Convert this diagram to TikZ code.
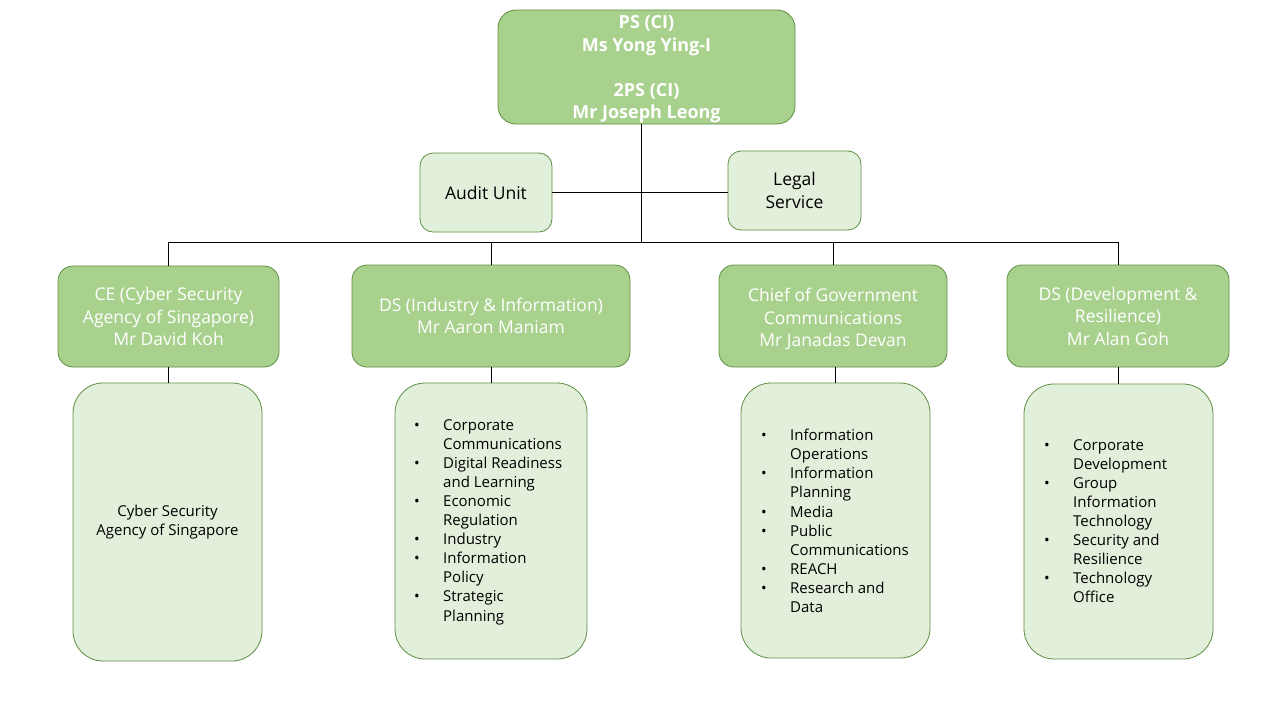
\documentclass[tikz,border=0pt]{standalone}
\usepackage{fontspec}
\setmainfont{Open Sans}
\definecolor{darkg}{HTML}{A9D18E}
\definecolor{lightg}{HTML}{E2EFDA}
\definecolor{edgeg}{HTML}{5E8F41}
\newcommand{\itm}[1]{\makebox[29pt][l]{\textbullet}#1}
\newcommand{\cnt}[1]{\hspace*{29pt}#1}
\begin{document}
\begin{tikzpicture}[x=1pt,y=-1pt,
  darkbox/.style={draw=edgeg, fill=darkg, line width=0.8pt, rounded corners=15pt, inner sep=0pt,
    text=white, align=center, font=\fontsize{17.5}{22.5}\selectfont},
  lightbox/.style={draw=edgeg, fill=lightg, line width=0.8pt, rounded corners=13pt, inner sep=0pt,
    text=black, align=center, font=\fontsize{17.5}{22.5}\selectfont},
  listbox/.style={draw=edgeg, fill=lightg, line width=0.8pt, rounded corners=30pt, inner sep=0pt},
  listtext/.style={anchor=north west, inner sep=0pt, align=left, font=\fontsize{15}{19.1}\selectfont},
  conn/.style={draw=black, line width=0.9pt}]
\useasboundingbox (0,0) rectangle (1280,720);
\fill[white] (0,0) rectangle (1280,720);

% top
\node[darkbox, rounded corners=18pt, minimum width=297pt, minimum height=114pt] (top) at (646.5,67) {};
\node[inner sep=0pt, text=white, align=center, font=\bfseries\fontsize{18}{22.5}\selectfont] (toptext) at (646.5,69.5)
  {PS (CI)\\Ms Yong Ying-I\\[22.5pt]2PS (CI)\\Mr Joseph Leong};

\node[lightbox, minimum width=132pt, minimum height=79pt] (audit) at (486,192.5) {Audit Unit};
\node[lightbox, minimum width=133pt, minimum height=79pt] (legal) at (794.5,190.5) {Legal\\Service};

% level 2
\node[darkbox, minimum width=221pt, minimum height=101pt] (ce) at (168.5,316.5)
  {CE (Cyber Security\\Agency of Singapore)\\Mr David Koh};
\node[darkbox, minimum width=278pt, minimum height=102pt] (dsii) at (491,316)
  {DS (Industry \& Information)\\Mr Aaron Maniam};
\node[darkbox, minimum width=228pt, minimum height=102pt] (chief) at (833,316)
  {\rule{0pt}{20pt}Chief of Government\\Communications\\Mr Janadas Devan};
\node[darkbox, minimum width=222pt, minimum height=102pt] (dsdr) at (1118,316)
  {DS (Development \&\\Resilience)\\Mr Alan Goh};

% level 3
\node[listbox, minimum width=189pt, minimum height=278pt] (b1) at (167.5,522) {};
\node[listbox, minimum width=192pt, minimum height=276pt] (b2) at (491,521) {};
\node[listbox, minimum width=189pt, minimum height=275pt] (b3) at (835.5,520.5) {};
\node[listbox, minimum width=189pt, minimum height=275pt] (b4) at (1118.5,521.5) {};

\node[inner sep=0pt, align=center, font=\fontsize{15}{19.1}\selectfont] (t1) at (b1.center)
  {Cyber Security\\Agency of Singapore};
\node[listtext] (t2) at (414,419)
  {\itm{Corporate}\\\cnt{Communications}\\\itm{Digital Readiness}\\\cnt{and Learning}\\\itm{Economic}\\\cnt{Regulation}\\\itm{Industry}\\\itm{Information}\\\cnt{Policy}\\\itm{Strategic}\\\cnt{Planning}};
\node[listtext] (t3) at (761,429)
  {\itm{Information}\\\cnt{Operations}\\\itm{Information}\\\cnt{Planning}\\\itm{Media}\\\itm{Public}\\\cnt{Communications}\\\itm{REACH}\\\itm{Research and}\\\cnt{Data}};
\node[listtext] (t4) at (1044,439)
  {\itm{Corporate}\\\cnt{Development}\\\itm{Group}\\\cnt{Information}\\\cnt{Technology}\\\itm{Security and}\\\cnt{Resilience}\\\itm{Technology}\\\cnt{Office}};

% connectors
\coordinate (bus) at (641,242);
\draw[conn] (top.south -| bus) -- (bus);
\draw[conn] (audit.east) -- (audit.east -| legal.west);
\draw[conn] (bus -| ce.north) -- (bus -| dsdr.north);
\draw[conn] (bus -| ce.north) -- (ce.north);
\draw[conn] (bus -| dsii.north) -- (dsii.north);
\draw[conn] (bus -| chief.north) -- (chief.north);
\draw[conn] (bus -| dsdr.north) -- (dsdr.north);
\draw[conn] (ce.south) -- (ce.south |- b1.north);
\draw[conn] (dsii.south) -- (dsii.south |- b2.north);
\draw[conn] (b3.north -| 835,0) -- (chief.south -| 835,0);
\draw[conn] (dsdr.south) -- (dsdr.south |- b4.north);
\end{tikzpicture}
\end{document}
